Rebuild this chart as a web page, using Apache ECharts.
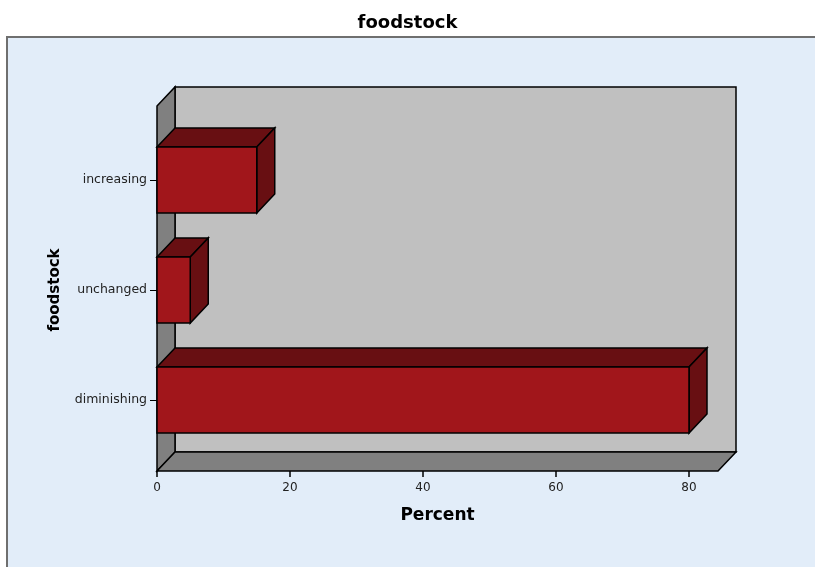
<!DOCTYPE html>
<html>
<head>
<meta charset="utf-8">
<script src="https://cdn.jsdelivr.net/npm/echarts@6/dist/echarts.min.js"></script>
<style>
  html, body { margin: 0; padding: 0; background: #ffffff; }
  #chart { width: 815px; height: 567px; }
</style>
</head>
<body>
<div id="chart"></div>
<script>
// Category order runs bottom-to-top on the vertical category axis
const categories = ['diminishing', 'unchanged', 'increasing'];
const percents = [80, 5, 15];
const xTickValues = [0, 20, 40, 60, 80];
const xMax = 84.36;

// Depth of the 3D extrusion (pixels)
const DX = 18, DY = 19;
const FONT = '"DejaVu Sans", "Liberation Sans", Arial, sans-serif';

const barFront = '#a1161b';
const barShade = '#680f12';
const wallBack = '#c0c0c0';
const wallSide = '#808080';
const edge = '#000000';

const chart = echarts.init(document.getElementById('chart'), null, { renderer: 'canvas' });

function renderWalls(params, api) {
  const cs = params.coordSys;
  const fx0 = cs.x, fx1 = cs.x + cs.width;
  const fy0 = cs.y - 19, fy1 = cs.y + cs.height + 16;
  const st = { stroke: edge, lineWidth: 1.5, lineJoin: 'miter' };
  return {
    type: 'group',
    children: [
      { type: 'rect', shape: { x: fx0 + DX, y: fy0 - DY, width: fx1 - fx0, height: fy1 - fy0 },
        style: Object.assign({ fill: wallBack }, st) },
      { type: 'polygon', shape: { points: [[fx0, fy0], [fx0 + DX, fy0 - DY], [fx0 + DX, fy1 - DY], [fx0, fy1]] },
        style: Object.assign({ fill: wallSide }, st) },
      { type: 'polygon', shape: { points: [[fx0, fy1], [fx0 + DX, fy1 - DY], [fx1 + DX, fy1 - DY], [fx1, fy1]] },
        style: Object.assign({ fill: wallSide }, st) }
    ]
  };
}

function renderBar(params, api) {
  const val = api.value(0);
  const cat = api.value(1);
  const p0 = api.coord([0, cat]);
  const p1 = api.coord([val, cat]);
  const h = api.size([0, 1])[1] * 0.6;
  const x0 = p0[0], x1 = p1[0];
  const yt = p0[1] - h / 2, yb = p0[1] + h / 2;
  const st = { stroke: edge, lineWidth: 1.5, lineJoin: 'miter' };
  return {
    type: 'group',
    children: [
      { type: 'polygon', shape: { points: [[x0, yt], [x0 + DX, yt - DY], [x1 + DX, yt - DY], [x1, yt]] },
        style: Object.assign({ fill: barShade }, st) },
      { type: 'polygon', shape: { points: [[x1, yt], [x1 + DX, yt - DY], [x1 + DX, yb - DY], [x1, yb]] },
        style: Object.assign({ fill: barShade }, st) },
      { type: 'rect', shape: { x: x0, y: yt, width: x1 - x0, height: yb - yt },
        style: Object.assign({ fill: barFront }, st) }
    ]
  };
}

chart.setOption({
  backgroundColor: '#ffffff',
  animation: false,
  title: {
    text: 'foodstock',
    left: 'center',
    top: 9,
    textStyle: { fontFamily: FONT, fontWeight: 'bold', fontSize: 18, color: '#000000' }
  },
  graphic: [{
    type: 'rect',
    z: -10,
    shape: { x: 7, y: 37, width: 830, height: 560 },
    style: { fill: '#e2edf9', stroke: '#6f6f6f', lineWidth: 2 }
  }],
  grid: { left: 157, right: 97, top: 125, bottom: 112, containLabel: false },
  xAxis: {
    type: 'value',
    min: 0,
    max: xMax,
    interval: 20,
    offset: 16,
    name: 'Percent',
    nameLocation: 'middle',
    nameGap: 36,
    nameTextStyle: { fontFamily: FONT, fontWeight: 'bold', fontSize: 17, color: '#000000' },
    axisLine: { show: false },
    axisTick: { show: true, length: 6, customValues: xTickValues, lineStyle: { color: '#000', width: 1.5 } },
    axisLabel: { customValues: xTickValues, margin: 11, fontFamily: FONT, fontSize: 12, color: '#222222' },
    splitLine: { show: false }
  },
  yAxis: {
    type: 'category',
    data: categories,
    name: 'foodstock',
    nameLocation: 'middle',
    nameRotate: 90,
    nameGap: 94,
    nameTextStyle: { fontFamily: FONT, fontWeight: 'bold', fontSize: 15, color: '#000000' },
    axisLine: { show: false },
    axisTick: { show: true, alignWithLabel: true, length: 7, lineStyle: { color: '#000', width: 1 } },
    axisLabel: { margin: 10, fontFamily: FONT, fontSize: 12.5, color: '#222222' },
    splitLine: { show: false }
  },
  series: [
    {
      type: 'custom',
      renderItem: renderWalls,
      data: [[0, 0]],
      z: 1,
      silent: true
    },
    {
      type: 'custom',
      renderItem: renderBar,
      encode: { x: 0, y: 1 },
      data: percents.map((v, i) => [v, i]),
      z: 2
    }
  ]
});
</script>
</body>
</html>
